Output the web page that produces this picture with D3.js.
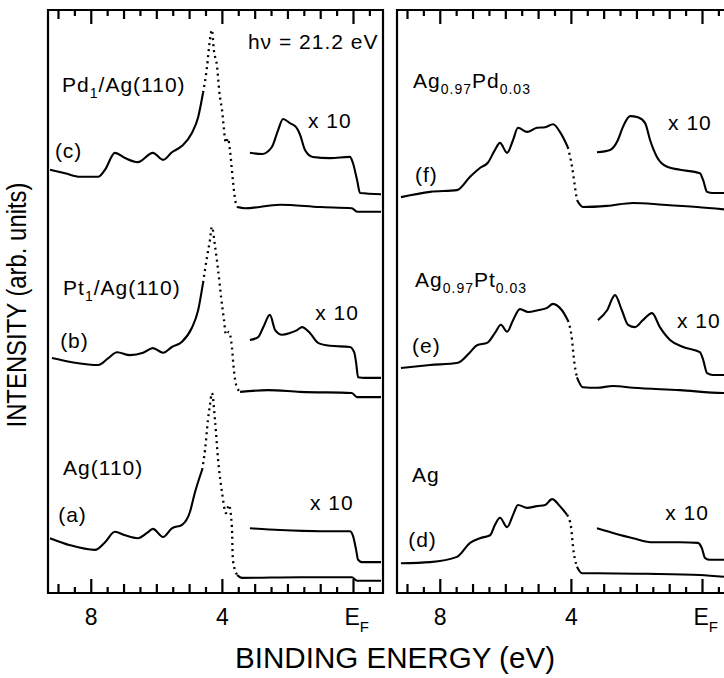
<!DOCTYPE html>
<html>
<head>
<meta charset="utf-8">
<script src="https://cdn.jsdelivr.net/npm/d3@7"></script>
<style>
  body { margin: 0; background: #fff; }
  text { font-family: "Liberation Sans", Arial, Helvetica, sans-serif; fill: #000; }
</style>
</head>
<body>
<script>
// spectra: [binding energy (eV), intensity (arb. units, stacked)]
const pdAgMain = [[9.26,72.6],[8.80,72.0],[8.34,71.4],[7.79,71.4],[7.58,72.6],[7.28,75.5],[6.97,74.6],[6.58,73.9],[6.12,75.5],[5.81,74.3],[5.54,75.6],[5.23,76.7],[4.93,78.9],[4.74,81.6],[4.59,85.8],[4.47,90.2],[4.38,94.9],[4.32,96.6],[4.26,93.1],[4.16,90.2],[4.10,86.3],[4.01,82.8],[3.89,77.2],[3.83,78.0],[3.77,76.0],[3.68,70.8],[3.61,67.4],[3.55,66.2],[3.31,66.0],[2.24,66.6],[1.02,66.2],[0.05,66.0],[-0.11,65.4],[-0.84,65.4]]
const pdAgX10 = [[3.16,75.5],[2.79,75.3],[2.49,76.5],[2.30,79.4],[2.15,81.3],[1.94,80.6],[1.75,79.9],[1.63,78.6],[1.48,76.0],[1.24,74.8],[0.72,74.6],[0.11,74.8],[0.02,73.8],[-0.11,70.8],[-0.20,68.6],[-0.84,68.4]]
const ptAgMain = [[9.20,40.3],[8.50,39.5],[7.79,39.1],[7.48,40.3],[7.21,41.3],[6.82,40.8],[6.42,41.2],[6.12,42.0],[5.81,41.2],[5.54,42.2],[5.23,43.1],[4.93,45.5],[4.74,48.5],[4.59,53.2],[4.47,57.6],[4.38,60.5],[4.32,62.8],[4.22,59.3],[4.13,55.4],[4.04,50.8],[3.95,46.8],[3.89,44.3],[3.80,44.8],[3.71,42.2],[3.65,38.3],[3.58,35.7],[3.46,34.5],[2.61,34.8],[1.63,34.5],[0.05,34.3],[-0.11,33.6],[-0.84,33.6]]
const ptAgX10 = [[3.16,43.4],[2.91,43.9],[2.76,45.5],[2.55,47.7],[2.39,45.1],[2.18,44.3],[1.94,44.6],[1.72,45.1],[1.57,45.6],[1.33,44.6],[1.08,42.9],[0.72,42.4],[0.11,42.2],[-0.02,41.3],[-0.08,39.5],[-0.14,37.0],[-0.35,36.9],[-0.84,36.9]]
const agMain = [[9.26,9.4],[8.65,8.2],[7.89,7.4],[7.58,8.7],[7.28,10.5],[6.97,9.9],[6.58,9.4],[6.30,10.3],[6.12,11.0],[5.81,9.6],[5.54,11.1],[5.23,11.7],[4.99,13.9],[4.84,17.2],[4.62,21.1],[4.53,24.5],[4.44,29.7],[4.38,32.2],[4.32,34.3],[4.22,29.3],[4.13,22.8],[4.01,17.2],[3.89,13.7],[3.80,15.1],[3.71,11.3],[3.68,5.7],[3.55,3.1],[3.40,2.6],[1.63,2.7],[0.05,2.7],[-0.11,2.1],[-0.84,2.1]]
const agX10 = [[3.16,11.1],[2.24,10.8],[1.02,10.6],[0.11,10.6],[0.02,9.9],[-0.08,7.4],[-0.14,5.7],[-0.26,5.3],[-0.84,5.3]]

const agPdMain = [[9.20,67.9],[8.31,68.8],[7.49,69.1],[7.09,71.4],[6.79,72.9],[6.55,73.8],[6.33,76.0],[6.18,77.2],[5.96,75.5],[5.78,77.7],[5.63,79.8],[5.35,79.1],[5.05,79.8],[4.80,79.9],[4.56,80.4],[4.35,79.1],[4.11,76.5],[3.98,73.1],[3.89,69.6],[3.83,67.4],[3.65,66.2],[2.91,66.4],[2.12,66.9],[1.21,66.6],[0.17,66.2],[-0.84,65.7]]
const agPdX10 = [[3.22,75.6],[2.82,76.0],[2.58,77.7],[2.43,79.9],[2.21,81.8],[1.97,81.6],[1.75,80.6],[1.60,77.7],[1.39,74.8],[1.08,73.1],[0.69,72.6],[0.08,72.0],[-0.02,70.8],[-0.14,68.8],[-0.32,68.6],[-0.84,68.6]]
const agPtMain = [[9.20,38.6],[8.31,39.1],[7.46,39.5],[7.09,41.3],[6.88,42.5],[6.57,42.9],[6.33,44.6],[6.15,46.0],[5.96,44.8],[5.78,46.8],[5.57,48.7],[5.32,48.2],[5.02,48.5],[4.74,48.9],[4.56,49.6],[4.29,48.5],[4.11,46.8],[3.98,43.4],[3.92,40.0],[3.83,37.0],[3.65,35.3],[3.22,35.2],[2.73,35.5],[2.12,35.2],[0.69,34.8],[-0.63,34.3],[-0.84,34.3]]
const agPtX10 = [[3.19,46.8],[2.91,48.5],[2.67,51.1],[2.46,48.5],[2.27,46.0],[2.06,45.6],[1.82,46.8],[1.54,48.0],[1.30,45.6],[0.99,43.4],[0.59,42.2],[0.08,41.3],[-0.02,40.0],[-0.14,37.7],[-0.32,37.4],[-0.84,37.4]]
const agPolyMain = [[9.20,5.1],[8.31,5.3],[7.49,6.2],[7.09,8.6],[6.79,9.4],[6.48,9.9],[6.33,11.7],[6.18,12.9],[5.96,11.3],[5.78,13.4],[5.63,15.1],[5.35,14.6],[5.05,14.9],[4.80,15.1],[4.59,16.1],[4.35,14.9],[4.13,13.4],[4.01,11.3],[3.95,7.9],[3.83,4.5],[3.68,3.4],[3.22,3.4],[1.69,3.3],[0.08,3.1],[-0.84,2.7]]
const agPolyX10 = [[3.22,11.1],[2.73,10.3],[2.12,9.4],[1.51,8.7],[0.69,8.7],[0.14,8.6],[0.02,7.7],[-0.08,6.0],[-0.23,5.7],[-0.84,5.7]]

const majorTicks = [8, 4, 0]
const intTicks = [9, 7, 6, 5, 3, 2, 1]
const halfTicks = [8.5, 7.5, 6.5, 5.5, 4.5, 3.5, 2.5, 1.5, 0.5, -0.5]
const tickLabels = ["8", "4", "E"]
const energyDomain = [9.32, -0.9]

const W = 724, H = 678, panelW = 335
const svg = d3.select("body").append("svg").attr("width", W).attr("height", H)
const y = d3.scaleLinear().domain([0, 100]).range([593, 10])

const panels = [
  { left: 48, main: [pdAgMain, ptAgMain, agMain], x10: [pdAgX10, ptAgX10, agX10], dots: [4.58, 3.56],
    labels: [
      {t: "hν = 21.2 eV", e: 3.22, v: 93.3},
      {t: "Pd", sub: "1", rest: "/Ag(110)", e: 8.89, v: 85.9},
      {t: "(c)", e: 9.11, v: 74.6}, {t: "x 10", e: 1.39, v: 79.8},
      {t: "Pt", sub: "1", rest: "/Ag(110)", e: 8.86, v: 51.1},
      {t: "(b)", e: 8.95, v: 42.0}, {t: "x 10", e: 1.17, v: 46.8},
      {t: "Ag(110)", e: 8.86, v: 20.2},
      {t: "(a)", e: 9.01, v: 12.2}, {t: "x 10", e: 1.33, v: 14.2}
    ] },
  { left: 397, main: [agPdMain, agPtMain, agPolyMain], x10: [agPdX10, agPtX10, agPolyX10], dots: [4.11, 3.83],
    labels: [
      {t: "Ag", sub: "0.97", rest: "Pd", sub2: "0.03", e: 8.83, v: 86.6},
      {t: "(f)", e: 8.77, v: 70.5}, {t: "x 10", e: 1.05, v: 79.4},
      {t: "Ag", sub: "0.97", rest: "Pt", sub2: "0.03", e: 8.77, v: 52.5},
      {t: "(e)", e: 8.86, v: 41.2}, {t: "x 10", e: 0.78, v: 45.5},
      {t: "Ag", e: 8.86, v: 19.0},
      {t: "(d)", e: 8.98, v: 7.9}, {t: "x 10", e: 1.14, v: 12.5}
    ] }
]

// split a spectrum so the steep part can be drawn dotted
function split(pts, hi, lo) {
  const i0 = pts.findIndex(d => d[0] < hi) - 1
  const i1 = pts.findIndex(d => d[0] <= lo)
  return { solid: [pts.slice(0, i0 + 1), pts.slice(i1)], dotted: pts.slice(i0, i1 + 1) }
}

panels.forEach(p => {
  const x = d3.scaleLinear().domain(energyDomain).range([p.left, p.left + panelW])
  const line = d3.line().curve(d3.curveMonotoneX).x(d => x(d[0])).y(d => y(d[1]))
  const g = svg.append("g")

  // frame and energy ticks in one path: bottom ticks point up, top ticks point down
  const bottom = y(0), topY = y(100)
  const frame = d3.path()
  frame.moveTo(x(energyDomain[0]), topY)
  frame.lineTo(x(energyDomain[1]), topY)
  frame.lineTo(x(energyDomain[1]), bottom)
  frame.lineTo(x(energyDomain[0]), bottom)
  frame.closePath()
  ;[[halfTicks, 6], [intTicks, 9], [majorTicks, 14]].forEach(s => {
    s[0].forEach(v => {
      frame.moveTo(x(v), bottom); frame.lineTo(x(v) + 0.01, bottom - s[1])
      frame.moveTo(x(v), topY); frame.lineTo(x(v) + 0.01, topY + s[1])
    })
  })
  g.append("path").attr("d", frame.toString())
    .attr("fill", "none").attr("stroke", "#000").attr("stroke-width", 2.2)

  // tick labels
  majorTicks.forEach((t, i) => {
    const tx = g.append("text").attr("x", x(t)).attr("y", 625)
      .attr("text-anchor", "middle").attr("font-size", 23).text(tickLabels[i])
    if (tickLabels[i] === "E") {
      tx.attr("text-anchor", null).attr("x", x(t) - 9)
      tx.append("tspan").attr("font-size", 15).attr("dy", 7).text("F")
    }
  })

  p.main.forEach(s => {
    const parts = split(s, p.dots[0], p.dots[1])
    parts.solid.forEach(seg => g.append("path").attr("d", line(seg))
      .attr("fill", "none").attr("stroke", "#000").attr("stroke-width", 2.1)
      .attr("stroke-linejoin", "round"))
    g.append("path").attr("d", line(parts.dotted))
      .attr("fill", "none").attr("stroke", "#000").attr("stroke-width", 2.3)
      .attr("stroke-dasharray", "2 4")
  })
  p.x10.forEach(s => g.append("path").attr("d", line(s))
    .attr("fill", "none").attr("stroke", "#000").attr("stroke-width", 2.1)
    .attr("stroke-linejoin", "round"))

  p.labels.forEach(l => {
    const t = g.append("text").attr("x", x(l.e)).attr("y", y(l.v))
      .attr("font-size", 21).attr("letter-spacing", 1).text(l.t)
    if (l.sub) {
      t.append("tspan").attr("font-size", 14).attr("dy", 6).text(l.sub)
      t.append("tspan").attr("font-size", 21).attr("dy", -6).text(l.rest)
    }
    if (l.sub2) t.append("tspan").attr("font-size", 14).attr("dy", 6).text(l.sub2)
  })
})

svg.append("text").attr("x", 395).attr("y", 668).attr("text-anchor", "middle")
  .attr("font-size", 30).attr("textLength", 320).attr("lengthAdjust", "spacingAndGlyphs")
  .text("BINDING ENERGY (eV)")

svg.append("text").attr("transform", "translate(26,305) rotate(-90)").attr("text-anchor", "middle")
  .attr("font-size", 27).attr("textLength", 245).attr("lengthAdjust", "spacingAndGlyphs")
  .text("INTENSITY (arb. units)")
</script>
</body>
</html>
